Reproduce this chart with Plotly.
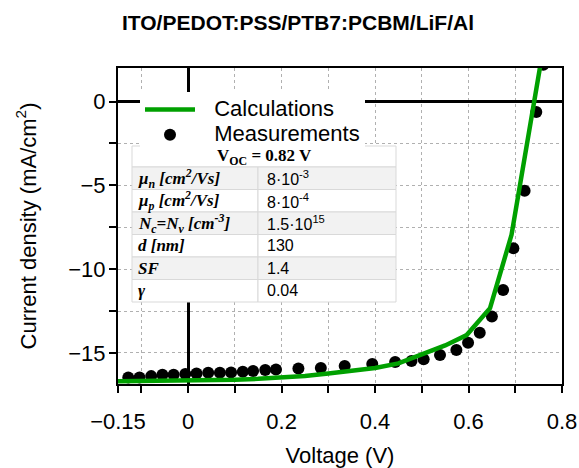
import plotly.graph_objects as go

# Measurements (Voltage V, current density mA/cm^2)
meas_v = [-0.128, -0.104, -0.079, -0.055, -0.031, -0.006, 0.018, 0.043, 0.068, 0.092,
          0.117, 0.139, 0.165, 0.188, 0.236, 0.284, 0.335, 0.394, 0.443, 0.478,
          0.504, 0.539, 0.574, 0.599, 0.624, 0.650, 0.674, 0.696, 0.720, 0.745, 0.760]
meas_j = [-16.46, -16.46, -16.38, -16.30, -16.30, -16.26, -16.22, -16.18, -16.18, -16.16,
          -16.12, -16.08, -16.02, -15.98, -15.92, -15.90, -15.78, -15.66, -15.54, -15.48,
          -15.38, -15.12, -14.82, -14.39, -13.79, -12.83, -11.24, -8.75, -5.32, -0.62, 2.2]

# Calculations
calc_v = [-0.15, -0.10, -0.05, 0.0, 0.05, 0.10, 0.15, 0.20, 0.25, 0.30, 0.35, 0.40,
          0.45, 0.50, 0.55, 0.596, 0.646, 0.692, 0.76]
calc_j = [-16.68, -16.67, -16.66, -16.64, -16.62, -16.59, -16.54, -16.47, -16.37, -16.23,
          -16.07, -15.90, -15.62, -15.05, -14.55, -13.93, -12.33, -7.95, 3.2]

x_tickvals = [-0.15, 0, 0.2, 0.4, 0.6, 0.8]
x_ticktext = ["\u22120.15", "0", "0.2", "0.4", "0.6", "0.8"]
y_tickvals = [0, -5, -10, -15]
y_ticktext = ["0", "\u22125", "\u221210", "\u221215"]

table_header = "<b>V<sub>OC</sub> = 0.82 V</b>"
table_params = ["<b><i>\u03bc<sub>n</sub> [cm<sup>2</sup>/Vs]</i></b>",
                "<b><i>\u03bc<sub>p</sub> [cm<sup>2</sup>/Vs]</i></b>",
                "<b><i>N<sub>c</sub>=N<sub>v</sub> [cm<sup>-3</sup>]</i></b>",
                "<b><i>d [nm]</i></b>",
                "<b><i>SF</i></b>",
                "<b><i>\u03b3</i></b>"]
table_values = ["8\u00b710<sup>-3</sup>", "8\u00b710<sup>-4</sup>", "1.5\u00b710<sup>15</sup>",
                "130", "1.4", "0.04"]

# plot-area geometry (px) used to place the inset table
L, R, T, B = 118, 562, 68, 384
W, H = R - L, B - T
def px(x):
    return (x - L) / W
def py(y):
    return (B - y) / H

fig = go.Figure()

NB = "\u00a0\u00a0\u00a0"
fig.add_trace(go.Scatter(
    x=meas_v, y=meas_j, mode="markers",
    name=NB + "<span style='font-size:22px'>Measurements</span>",
    marker=dict(color="black", size=12), legendrank=2))
fig.add_trace(go.Scatter(
    x=calc_v, y=calc_j, mode="lines",
    name=NB + "<span style='font-size:22px'>Calculations</span>",
    line=dict(color="#00a000", width=4.5), legendrank=1))

# inset table built from shapes + annotations
tx0, tx1, tdiv = 132, 396, 258
row_edges = [146, 167, 189.5, 212, 234.5, 257, 279.5, 302]
shapes = []
annotations = []
border = dict(color="#d9d9d9", width=1)
shapes.append(dict(type="rect", xref="paper", yref="paper", layer="above",
                   x0=px(tx0), x1=px(tx1), y0=py(row_edges[1]), y1=py(row_edges[0]),
                   fillcolor="white", line=border))
annotations.append(dict(xref="paper", yref="paper", x=px((tx0 + tx1) / 2),
                        y=py((row_edges[0] + row_edges[1]) / 2), text=table_header,
                        showarrow=False, xanchor="center", yanchor="middle",
                        font=dict(family="Liberation Serif", size=17, color="black")))
for i, (p, v) in enumerate(zip(table_params, table_values)):
    top, bot = row_edges[i + 1], row_edges[i + 2]
    fill = "#f2f2f2" if i % 2 == 0 else "white"
    shapes.append(dict(type="rect", xref="paper", yref="paper", layer="above",
                       x0=px(tx0), x1=px(tdiv), y0=py(bot), y1=py(top),
                       fillcolor=fill, line=border))
    shapes.append(dict(type="rect", xref="paper", yref="paper", layer="above",
                       x0=px(tdiv), x1=px(tx1), y0=py(bot), y1=py(top),
                       fillcolor=fill, line=border))
    yc = py((top + bot) / 2)
    annotations.append(dict(xref="paper", yref="paper", x=px(tx0 + 4), y=yc, text=p,
                            showarrow=False, xanchor="left", yanchor="middle",
                            font=dict(family="Liberation Serif", size=17, color="black")))
    annotations.append(dict(xref="paper", yref="paper", x=px(tdiv + 7), y=yc, text=v,
                            showarrow=False, xanchor="left", yanchor="middle",
                            font=dict(family="Liberation Sans", size=16, color="black")))

fig.update_layout(
    width=579, height=468,
    margin=dict(l=L, r=579 - R, t=T, b=468 - B, autoexpand=False),
    paper_bgcolor="white", plot_bgcolor="white",
    font=dict(family="Liberation Sans", color="black"),
    title=dict(text="<b>ITO/PEDOT:PSS/PTB7:PCBM/LiF/Al</b>", x=298 / 579, xanchor="center",
               y=1 - 23 / 468, yanchor="middle", font=dict(size=21, family="Liberation Sans")),
    legend=dict(x=px(140), y=py(92), xanchor="left", yanchor="top",
                bgcolor="white", borderwidth=0, font=dict(size=17),
                itemwidth=50, tracegroupgap=0),
    showlegend=True,
    shapes=shapes,
    annotations=annotations,
)

fig.update_xaxes(
    range=[-0.15, 0.8], tickvals=x_tickvals, ticktext=x_ticktext, automargin=False,
    ticks="outside", ticklen=7, tickwidth=2, tickcolor="black",
    tickfont=dict(size=22), ticklabelstandoff=10,
    showline=True, linewidth=2, linecolor="black", mirror=True,
    showgrid=True, gridcolor="#b0b0b0", griddash="dot", gridwidth=1,
    minor=dict(dtick=0.1, tick0=0, ticks="outside", ticklen=7, tickwidth=2, tickcolor="black",
               showgrid=True, gridcolor="#b0b0b0", griddash="dot", gridwidth=1),
    zeroline=True, zerolinecolor="black", zerolinewidth=3,
    title=dict(text="Voltage (V)", font=dict(size=22), standoff=14),
)
fig.update_yaxes(
    range=[-16.85, 2.0], tickvals=y_tickvals, ticktext=y_ticktext, automargin=False,
    ticks="outside", ticklen=7, tickwidth=2, tickcolor="black",
    tickfont=dict(size=22), ticklabelstandoff=-1,
    showline=True, linewidth=2, linecolor="black", mirror=True,
    showgrid=True, gridcolor="#b0b0b0", griddash="dot", gridwidth=1,
    minor=dict(dtick=2.5, tick0=0, ticks="outside", ticklen=7, tickwidth=2, tickcolor="black",
               showgrid=True, gridcolor="#b0b0b0", griddash="dot", gridwidth=1),
    zeroline=True, zerolinecolor="black", zerolinewidth=3,
    title=dict(text="Current density (mA/cm<sup>2</sup>)", font=dict(size=22), standoff=26),
)

fig.write_html("out.html", config={"displayModeBar": False},
               post_script="document.body.style.margin='0px';")
